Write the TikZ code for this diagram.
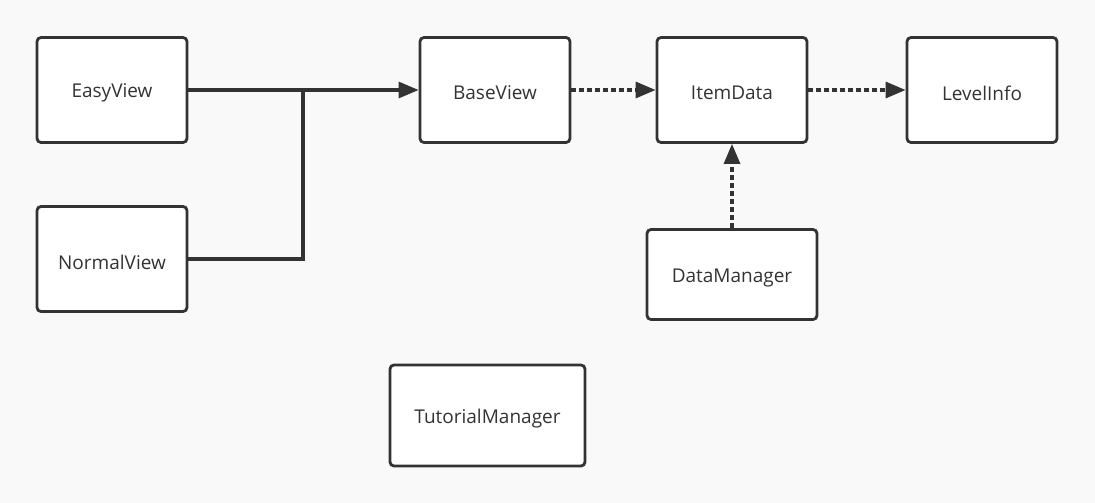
\documentclass[tikz,border=0pt]{standalone}
\usepackage{fontspec}
\setmainfont{Open Sans}
\usetikzlibrary{arrows.meta}
\definecolor{bg}{HTML}{F9F9F9}
\definecolor{ink}{HTML}{333333}
\begin{document}
\begin{tikzpicture}[x=1pt,y=-1pt,
  box/.style={draw=ink,line width=2.8pt,fill=white,rounded corners=4pt,inner sep=0pt,
    font=\fontsize{19}{22}\selectfont,text=ink},
  lbl/.style={font=\fontsize{19}{22}\selectfont,text=ink,inner sep=0pt},
  conn/.style={draw=ink,line width=3.1pt,-{Triangle[length=20pt,width=16pt]}},
  dots/.style={conn,dash pattern=on 5pt off 3pt}]
\fill[bg] (0,0) rectangle (1095,503);
\useasboundingbox (0,0) rectangle (1095,503);
\node[box,minimum width=150pt,minimum height=105pt] (easy) at (112,90) {};
\node[box,minimum width=150pt,minimum height=105pt] (normal) at (112,259) {};
\node[box,minimum width=150pt,minimum height=105pt] (base) at (495,90) {};
\node[box,minimum width=150pt,minimum height=105pt] (item) at (732,90) {};
\node[box,minimum width=150pt,minimum height=105pt] (level) at (982,90) {};
\node[box,minimum width=170pt,minimum height=90pt] (dm) at (732,274.5) {};
\node[box,minimum width=195pt,minimum height=101pt] (tut) at (487.5,415.5) {};
\node[lbl] (teasy) at ([yshift=-3pt]easy.center) {EasyView};
\node[lbl] (tnormal) at ([yshift=-3pt]normal.center) {NormalView};
\node[lbl] (tbase) at ([yshift=-3pt]base.center) {BaseView};
\node[lbl] (titem) at ([yshift=-3pt]item.center) {ItemData};
\node[lbl] (tlevel) at ([yshift=-3pt]level.center) {LevelInfo};
\node[lbl] (tdm) at ([yshift=-3pt]dm.center) {DataManager};
\node[lbl] (ttut) at ([yshift=-3pt]tut.center) {TutorialManager};
\coordinate (j) at (303,90);
\draw[conn] (easy.east) -- (base.west);
\draw[draw=ink,line width=3.1pt] (normal.east) -| (j);
\draw[dots] (base.east) -- (item.west);
\draw[dots] (item.east) -- (level.west);
\draw[dots] (dm.north) -- (item.south);
\end{tikzpicture}
\end{document}
